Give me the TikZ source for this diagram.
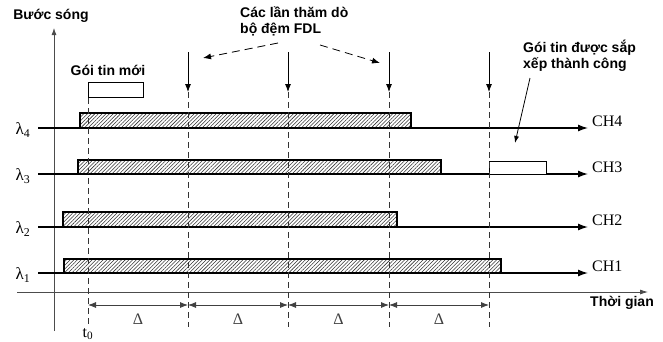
\documentclass[tikz,border=0pt]{standalone}
\usepackage{fontspec}
\setmainfont{Liberation Serif}
\newfontfamily\arial{Liberation Sans}
\usetikzlibrary{arrows.meta,patterns.meta}

\tikzset{
  txt/.style={font=\arial\bfseries\fontsize{14}{15.5}\selectfont, align=left, inner sep=0pt},
  sym/.style={font=\fontsize{16}{18}\selectfont, inner sep=0pt},
  chan/.style={line width=1.3pt, -{Latex[length=10pt,width=7pt]}},
  slot/.style={draw, line width=1.1pt, pattern={Lines[angle=45,distance=2.6pt,line width=0.55pt]}, pattern color=black!80},
  pkt/.style={draw, line width=1.3pt, fill=white, inner sep=0pt},
  vdash/.style={gray!40!black, line width=0.8pt, dash pattern=on 6pt off 4pt},
  gap/.style={gray!50!black, line width=0.8pt, {Latex[length=8pt,width=6pt]}-{Latex[length=8pt,width=6pt]}},
  note/.style={line width=0.8pt, dash pattern=on 8pt off 5pt, -{Latex[length=8pt,width=6pt]}},
}

\begin{document}
\begin{tikzpicture}[x=1pt,y=-1pt]
    \useasboundingbox (0,0) rectangle (663,341);
    % Wavelength axis and time axis
    \coordinate (o1) at (54,331);
    \coordinate (o2) at (54,28);
    \draw[gray!60!black, line width=0.8pt, -{Latex[length=7pt,width=5pt]}] (o1) -- (o2);
    \coordinate (t1) at (17,292);
    \coordinate (t2) at (648,292);
    \draw[gray!60!black, line width=0.8pt, -{Latex[length=8pt,width=5pt]}] (t1) -- (t2);
    \node[txt] (wave) at (51,16) {Bước sóng};
    \node[txt, anchor=west] (time) at (590,303) {Thời gian};

    % Channel lines with their labels
    \foreach \i/\y in {4/128,3/174,2/227,1/273} {
        \coordinate (s\i) at (38,\y);
        \coordinate (e\i) at (588,\y);
        \draw[chan] (s\i) -- (e\i);
        \node[sym, anchor=base west] (ch\i) at (592,\y-2) {CH\i};
        \node[sym, font=\fontsize{17}{19}\selectfont] (l\i) at (23,\y+2) {λ\textsubscript{\i}};
    }

    % Busy slots on each channel
    \draw[slot] (80,113) rectangle (411,128);
    \draw[slot] (78,160) rectangle (441,174);
    \draw[slot] (63,212) rectangle (397,227);
    \draw[slot] (64,259) rectangle (501,273);

    % New packet and scheduled packet
    \node[pkt, minimum width=55pt, minimum height=15pt, anchor=north west] (newpkt) at (88,82) {};
    \node[txt] (newlbl) at (108,70) {Gói tin mới};
    \node[pkt, minimum width=57pt, minimum height=13pt, anchor=north west] (okpkt) at (489,161) {};

    % Polling instants of the FDL buffer
    \coordinate (b0) at (88,327);
    \draw[vdash] (newpkt.south west) -- (b0);
    \foreach \x [count=\k] in {188,288,389,489} {
        \coordinate (a\k) at (\x,52);
        \coordinate (m\k) at (\x,92);
        \coordinate (b\k) at (\x,327);
        \draw[line width=0.8pt, -{Latex[length=8pt,width=6pt]}] (a\k) -- (m\k);
        \draw[vdash] (m\k) -- (b\k);
    }

    % Polling period
    \foreach \x [count=\k from 0] in {88,188,288,389,489}
        \coordinate (d\k) at (\x,305);
    \foreach \a/\b in {0/1,1/2,2/3,3/4}
        \draw[gap] (d\a) -- (d\b) node[sym, midway, yshift=-14pt] {Δ};
    \node[sym, anchor=south] (tzero) at (88,340) {t\textsubscript{0}};

    % Notes
    \node[txt, anchor=north west] (polls) at (240,7) {Các lần thăm dò\\bộ đệm FDL};
    \coordinate (pf1) at (278,43);
    \coordinate (pt1) at (203,58);
    \coordinate (pf2) at (320,45);
    \coordinate (pt2) at (380,63);
    \draw[note] (pf1) -- (pt1);
    \draw[note] (pf2) -- (pt2);
    \node[txt, anchor=north west] (oklbl) at (523,40) {Gói tin được sắp\\xếp thành công};
    \coordinate (of) at (530,78);
    \coordinate (ot) at (515,143);
    \draw[line width=0.8pt, -{Latex[length=7pt,width=5pt]}] (of) -- (ot);
\end{tikzpicture}
\end{document}
